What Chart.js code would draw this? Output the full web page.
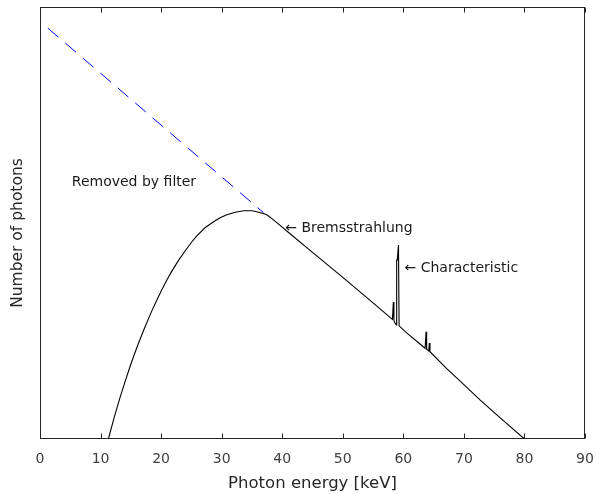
<!DOCTYPE html>
<html><head><meta charset="utf-8">
<script src="https://cdn.jsdelivr.net/npm/chart.js@4"></script>
<style>html,body{margin:0;padding:0;background:#fff}#wrap{width:596px;height:494px}</style>
</head><body><div id="wrap"><canvas id="c" width="596" height="494"></canvas></div>
<script>
// Spectrum after filtration (keV, relative photon number)
const energy  = [11.3, 11.85, 12.4, 13.2, 14.05, 14.9, 15.45, 16.25, 17.1, 17.9, 18.45, 19.3, 20.1, 20.95, 21.75,
                 22.9, 24.25, 25.05, 25.9, 27.25, 28.65, 29.75, 30.85, 32.25, 33.6, 35.0, 35.8, 36.9, 37.5,
                 38.3, 39.1, 39.95, 40.8,
                 45, 50, 55, 58.2, 58.35, 58.45, 58.55, 58.85, 58.9, 59.0, 59.1, 59.2, 59.3, 60.6,
                 63.6, 63.75, 63.85, 64.2, 64.3, 64.4, 67, 70, 72.7, 76, 80];
const photons = [0, 2.9, 5.7, 9.5, 13.3, 16.9, 19.1, 22.1, 25.1, 27.8, 29.6, 32.2, 34.5, 36.8, 38.8,
                 41.4, 44.1, 45.6, 47.0, 48.9, 50.3, 51.2, 51.9, 52.5, 52.85, 52.85, 52.6, 52.2, 51.85,
                 51.0, 50.1, 49.1, 48.1,
                 43.2, 37.4, 31.5, 27.7, 31.7, 27.5, 27.0, 26.4, 41.4, 41.4, 41.4, 44.9, 26.2, 24.5,
                 21.0, 24.8, 20.8, 20.4, 22.2, 20.2, 16.5, 12.6, 9.0, 4.9, 0];
// Unfiltered bremsstrahlung (removed by filter)
const removedEnergy  = [1.3, 36.9];
const removedPhotons = [95.1, 52.4];
const xTickValues = [0, 10, 20, 30, 40, 50, 60, 70, 80, 90];
const noteTexts = ['Removed by filter', '\u2190 Bremsstrahlung', '\u2190 Characteristic'];
const noteX = [5.25, 40.5, 60.2];
const noteY = [59.3, 48.8, 39.4];
const yTitle = 'Number of photons';

const FONT = "'DejaVu Sans', sans-serif";
const toPts = (xs, ys) => xs.map((x, i) => ({x: x, y: ys[i]}));

const framePlugin = {
  id: 'frame',
  afterDraw(chart) {
    const {ctx, chartArea: a, scales: {x, y}} = chart;
    ctx.save();
    ctx.strokeStyle = '#262626';
    ctx.lineWidth = 1;
    const L = Math.round(a.left) + 0.5, R = Math.round(a.right) - 0.5;
    const T = Math.round(a.top) + 0.5, B = Math.round(a.bottom) - 0.5;
    ctx.strokeRect(L, T, R - L, B - T);
    ctx.beginPath();
    x.ticks.forEach(t => {
      const px = Math.round(x.getPixelForValue(t.value)) + 0.5;
      ctx.moveTo(px, B); ctx.lineTo(px, B - 5);
      ctx.moveTo(px, T); ctx.lineTo(px, T + 5);
    });
    ctx.stroke();
    ctx.fillStyle = '#1a1a1a';
    ctx.font = '14px ' + FONT;
    ctx.textAlign = 'left';
    ctx.textBaseline = 'middle';
    noteTexts.forEach((s, i) => {
      ctx.fillText(s, x.getPixelForValue(noteX[i]), y.getPixelForValue(noteY[i]));
    });
    // y axis title
    ctx.fillStyle = '#262626';
    ctx.font = '15.5px ' + FONT;
    ctx.textAlign = 'center';
    ctx.translate(18, (a.top + a.bottom) / 2 + 10);
    ctx.rotate(-Math.PI / 2);
    ctx.fillText(yTitle, 0, 0);
    ctx.restore();
  }
};

new Chart(document.getElementById('c'), {
  type: 'scatter',
  data: {
    datasets: [
      {data: toPts(energy, photons), showLine: true, borderColor: '#000', borderWidth: 1.1,
       pointRadius: 0, tension: 0, fill: false},
      {data: toPts(removedEnergy, removedPhotons), showLine: true, borderColor: '#0000ff', borderWidth: 1,
       borderDash: [14, 9], pointRadius: 0, fill: false}
    ]
  },
  options: {
    responsive: false,
    animation: false,
    devicePixelRatio: 1,
    layout: {padding: {left: 0, right: 11, top: 7, bottom: 0}},
    plugins: {legend: {display: false}, tooltip: {enabled: false}},
    scales: {
      x: {
        type: 'linear', min: 0, max: 90,
        afterBuildTicks: s => { s.ticks = xTickValues.map(v => ({value: v})); },
        grid: {display: false, drawTicks: false},
        border: {display: false},
        ticks: {color: '#404040', font: {family: FONT, size: 14}, padding: 12, maxRotation: 0, autoSkip: false},
        title: {display: true, text: 'Photon energy [keV]', color: '#262626',
                font: {family: FONT, size: 16.5}, padding: {top: 0, bottom: 0}},
        afterFit: s => { s.height = 55; s.paddingLeft = 0; s.paddingRight = 0; }
      },
      y: {
        type: 'linear', min: 0, max: 100,
        grid: {display: false, drawTicks: false},
        border: {display: false},
        ticks: {display: false},
        title: {display: false},
        afterFit: s => { s.width = 40; }
      }
    }
  },
  plugins: [framePlugin]
});
</script>
</body></html>
